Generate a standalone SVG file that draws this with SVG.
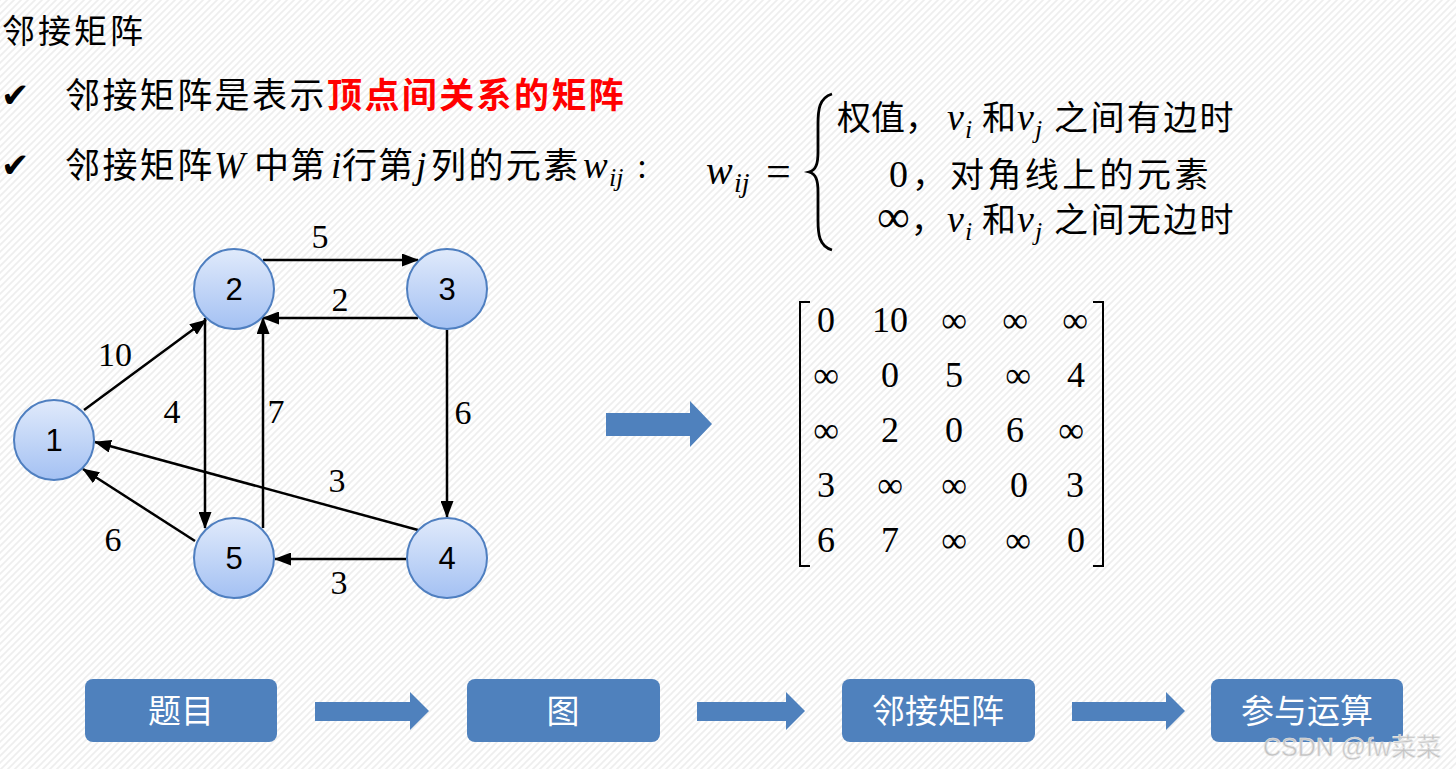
<svg xmlns="http://www.w3.org/2000/svg" width="1456" height="769" viewBox="0 0 1456 769">
<style>
.cn{font-family:"Noto Sans CJK SC","Liberation Sans",sans-serif;fill:#000;}
.mi{font-family:"Liberation Serif",serif;font-style:italic;fill:#000;}
.num{font-family:"Liberation Serif",serif;fill:#000;}
.ck{font-family:"DejaVu Sans",sans-serif;font-size:34px;fill:#000;}
.nl{font-family:"Liberation Sans",sans-serif;font-size:31px;fill:#000;text-anchor:middle;}
.el{font-family:"Liberation Serif",serif;font-size:34px;fill:#000;text-anchor:middle;}
.mx{font-family:"Liberation Serif",serif;font-size:36px;fill:#000;text-anchor:middle;}
.node{fill:url(#ng);stroke:#4f7fc0;stroke-width:2;}
.edge{stroke:#000;stroke-width:2.5;fill:none;marker-end:url(#ah);}
.box{fill:#4f81bd;}
.bt{font-family:"Noto Sans CJK SC","Liberation Sans",sans-serif;font-size:33px;fill:#fff;text-anchor:middle;}
.barrow{fill:#4f81bd;}
</style>
<defs>
<pattern id="bg" width="7" height="7" patternUnits="userSpaceOnUse">
<rect width="7" height="7" fill="#fff"/>
<path d="M-1,1 L1,-1 M0,7 L7,0 M6,8 L8,6" stroke="#eeeeee" stroke-width="1.6"/>
</pattern>
<linearGradient id="ng" x1="0" y1="0" x2="0" y2="1">
<stop offset="0" stop-color="#e0eafb"/>
<stop offset="1" stop-color="#a4c1f3"/>
</linearGradient>
<marker id="ah" markerWidth="17" markerHeight="13" refX="16" refY="6.5" orient="auto" markerUnits="userSpaceOnUse">
<path d="M0,0 L17,6.5 L0,13 z" fill="#000"/>
</marker>
</defs>
<rect width="1456" height="769" fill="url(#bg)"/>

<g id="title">
<text class="cn" x="2" y="43" font-size="33" letter-spacing="3">邻接矩阵</text>
</g>

<g id="line1">
<text class="ck" x="1" y="107">✔</text>
<text class="cn" x="65" y="108" font-size="35" letter-spacing="2.4">邻接矩阵是表示</text>
<text class="cn" x="327" y="108" font-size="35" letter-spacing="2.4" font-weight="bold" style="fill:#ff0000">顶点间关系的矩阵</text>
</g>

<g id="line2">
<text class="ck" x="1" y="177">✔</text>
<text class="cn" x="65" y="178" font-size="35" letter-spacing="2.4">邻接矩阵</text>
<text class="mi" x="214" y="178" font-size="37">W</text>
<text class="cn" x="254" y="178" font-size="35" letter-spacing="1">中第</text>
<text class="mi" x="331" y="178" font-size="37">i</text>
<text class="cn" x="342" y="178" font-size="35" letter-spacing="1">行第</text>
<text class="mi" x="416" y="178" font-size="37">j</text>
<text class="cn" x="431" y="178" font-size="35" letter-spacing="2.4">列的元素</text>
<text class="mi" x="583" y="178" font-size="37">w</text>
<text class="mi" x="609" y="186" font-size="26">ij</text>
<text class="num" x="637" y="178" font-size="36">:</text>
</g>

<g id="formula">
<text class="mi" x="706" y="184" font-size="40">w</text>
<text class="mi" x="734" y="192" font-size="28">ij</text>
<text class="num" x="766" y="186" font-size="44">=</text>
<path d="M832,94 C819,98 818,110 818,124 L818,152 C818,164 816,170 809,172 C816,174 818,180 818,192 L818,220 C818,234 819,246 832,250" stroke="#000" stroke-width="2.8" fill="none"/>
<text class="cn" x="837" y="130" font-size="34">权值，</text>
<text class="mi" x="947" y="130" font-size="38">v</text>
<text class="mi" x="965" y="138" font-size="26">i</text>
<text class="cn" x="982" y="130" font-size="34">和</text>
<text class="mi" x="1017" y="130" font-size="38">v</text>
<text class="mi" x="1035" y="138" font-size="26">j</text>
<text class="cn" x="1054" y="130" font-size="34" letter-spacing="2.4">之间有边时</text>

<text class="num" x="889" y="187" font-size="38">0<tspan font-family="Noto Sans CJK SC,sans-serif" font-size="34" dx="4">，</tspan></text>
<text class="cn" x="950" y="187" font-size="34" letter-spacing="3.4">对角线上的元素</text>

<text class="num" x="877" y="232" font-size="46">∞<tspan font-family="Noto Sans CJK SC,sans-serif" font-size="34" dx="1">，</tspan></text>
<text class="mi" x="947" y="232" font-size="38">v</text>
<text class="mi" x="965" y="240" font-size="26">i</text>
<text class="cn" x="982" y="232" font-size="34">和</text>
<text class="mi" x="1017" y="232" font-size="38">v</text>
<text class="mi" x="1035" y="240" font-size="26">j</text>
<text class="cn" x="1054" y="232" font-size="34" letter-spacing="2.4">之间无边时</text>
</g>

<g id="connectors">
<line class="edge" x1="263" y1="260" x2="418" y2="260"/>
<line class="edge" x1="418" y1="318" x2="263" y2="318"/>
<line class="edge" x1="84" y1="410" x2="206" y2="320"/>
<line class="edge" x1="205" y1="318" x2="205" y2="528"/>
<line class="edge" x1="263" y1="528" x2="263" y2="318"/>
<line class="edge" x1="447" y1="330" x2="447" y2="517"/>
<line class="edge" x1="418" y1="530" x2="95" y2="442"/>
<line class="edge" x1="195" y1="541" x2="83" y2="469"/>
<line class="edge" x1="406" y1="559" x2="275" y2="559"/>
<text class="el" x="320" y="248">5</text>
<text class="el" x="340" y="311">2</text>
<text class="el" x="115" y="366">10</text>
<text class="el" x="172" y="423">4</text>
<text class="el" x="276" y="423">7</text>
<text class="el" x="463" y="424">6</text>
<text class="el" x="337" y="492">3</text>
<text class="el" x="113" y="551">6</text>
<text class="el" x="339" y="594">3</text>
</g>

<g id="node1"><circle class="node" cx="54" cy="440" r="40"/><text class="nl" x="54" y="451">1</text></g>
<g id="node2"><circle class="node" cx="234" cy="289" r="40"/><text class="nl" x="234" y="300">2</text></g>
<g id="node3"><circle class="node" cx="447" cy="289" r="40"/><text class="nl" x="447" y="300">3</text></g>
<g id="node4"><circle class="node" cx="447" cy="558" r="40"/><text class="nl" x="447" y="569">4</text></g>
<g id="node5"><circle class="node" cx="234" cy="558" r="40"/><text class="nl" x="234" y="569">5</text></g>

<g id="bigArrow">
<polygon class="barrow" points="606,413 690,413 690,401 712,424 690,447 690,436 606,436"/>
</g>

<g id="matrix">
<path d="M810,302 L800,302 L800,566 L810,566" stroke="#000" stroke-width="2" fill="none"/>
<path d="M1093,302 L1103,302 L1103,566 L1093,566" stroke="#000" stroke-width="2" fill="none"/>
<text class="mx" x="826" y="332">0</text>
<text class="mx" x="890" y="332">10</text>
<text class="mx" x="954" y="332">∞</text>
<text class="mx" x="1015" y="332">∞</text>
<text class="mx" x="1075" y="332">∞</text>

<text class="mx" x="826" y="387">∞</text>
<text class="mx" x="890" y="387">0</text>
<text class="mx" x="954" y="387">5</text>
<text class="mx" x="1018" y="387">∞</text>
<text class="mx" x="1076" y="387">4</text>

<text class="mx" x="826" y="442">∞</text>
<text class="mx" x="890" y="442">2</text>
<text class="mx" x="954" y="442">0</text>
<text class="mx" x="1015" y="442">6</text>
<text class="mx" x="1071" y="442">∞</text>

<text class="mx" x="826" y="497">3</text>
<text class="mx" x="890" y="497">∞</text>
<text class="mx" x="954" y="497">∞</text>
<text class="mx" x="1019" y="497">0</text>
<text class="mx" x="1075" y="497">3</text>

<text class="mx" x="826" y="552">6</text>
<text class="mx" x="890" y="552">7</text>
<text class="mx" x="954" y="552">∞</text>
<text class="mx" x="1018" y="552">∞</text>
<text class="mx" x="1076" y="552">0</text>
</g>

<g id="flow1"><rect class="box" x="85" y="679" width="192" height="63" rx="8"/><text class="bt" x="181" y="723">题目</text></g>
<g id="flow2"><rect class="box" x="467" y="679" width="193" height="63" rx="8"/><text class="bt" x="563" y="723">图</text></g>
<g id="flow3"><rect class="box" x="842" y="679" width="193" height="63" rx="8"/><text class="bt" x="938" y="723">邻接矩阵</text></g>
<g id="flow4"><rect class="box" x="1211" y="679" width="192" height="63" rx="8"/><text class="bt" x="1307" y="723">参与运算</text></g>

<g id="flowArrows">
<polygon class="barrow" points="315,702 410,702 410,692 429,711 410,730 410,721 315,721"/>
<polygon class="barrow" points="697,702 786,702 786,692 805,711 786,730 786,721 697,721"/>
<polygon class="barrow" points="1072,702 1166,702 1166,692 1185,711 1166,730 1166,721 1072,721"/>
</g>

<text x="1263" y="756" font-family="Liberation Sans,Noto Sans CJK SC,sans-serif" font-size="25" fill="#c2c2c2" stroke="#e8e8e8" stroke-width="0.6">CSDN @fw菜菜</text>
</svg>
